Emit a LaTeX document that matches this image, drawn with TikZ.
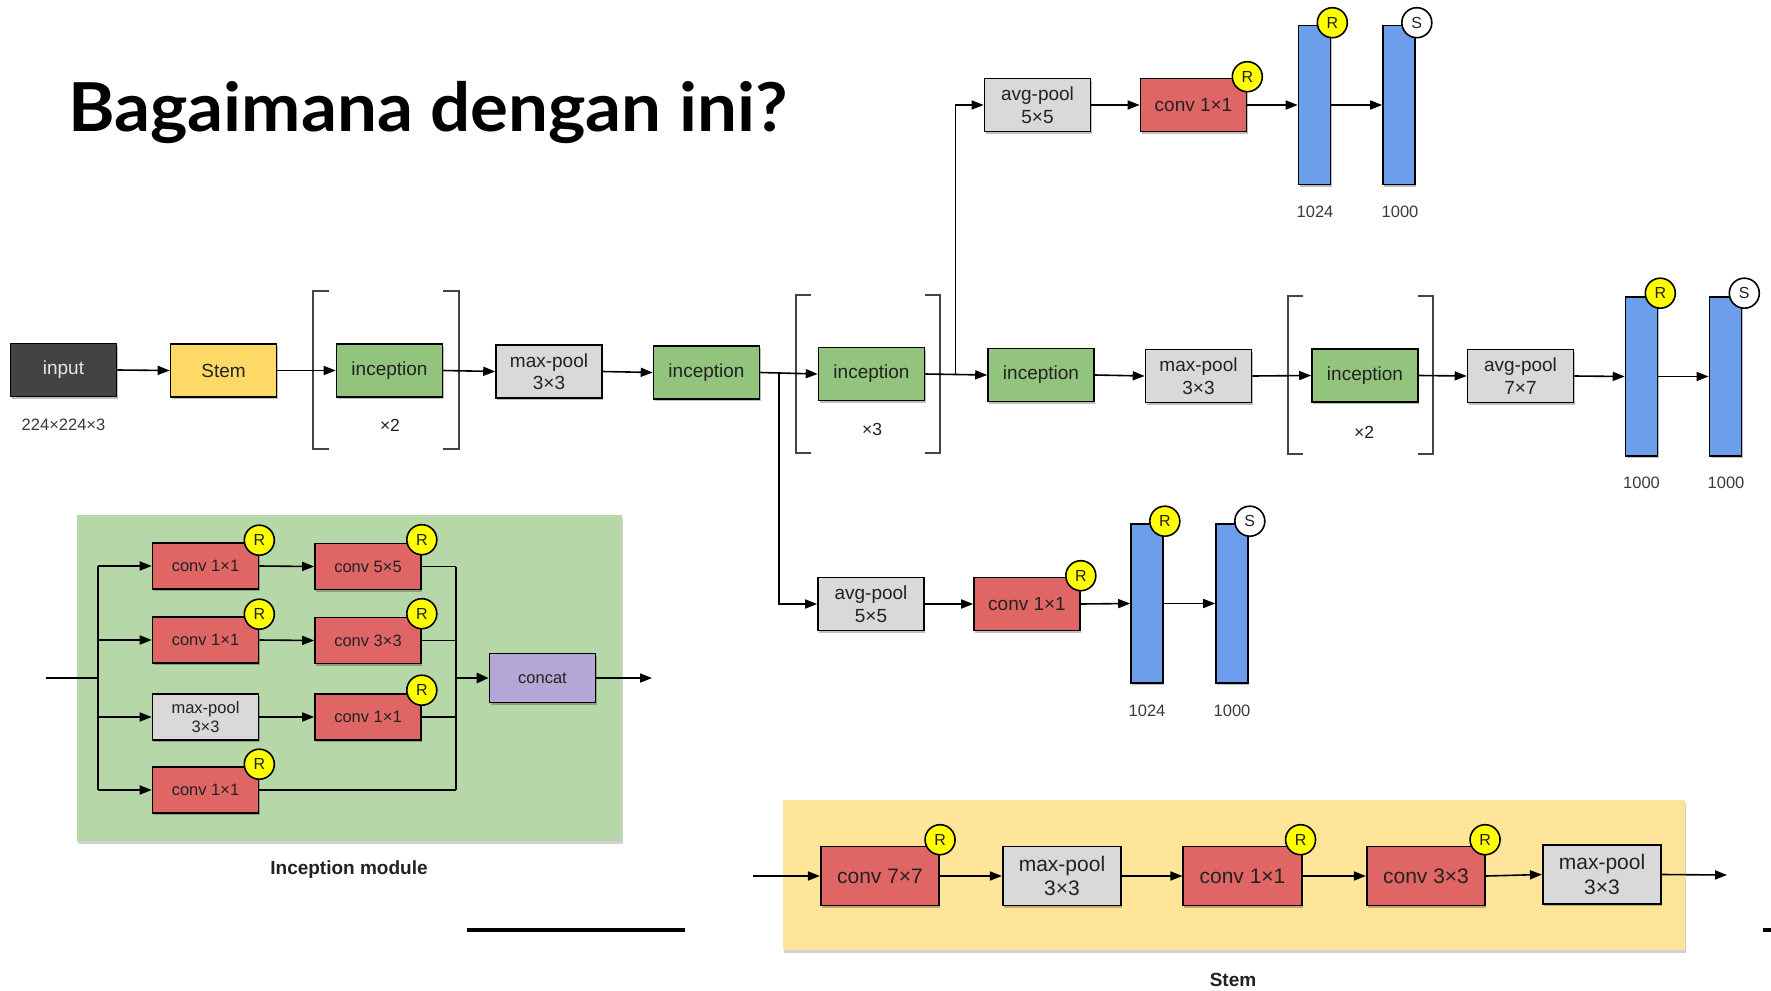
\documentclass[tikz,border=0pt]{standalone}
\usepackage{fontspec}
\setmainfont{Liberation Sans}
\newfontfamily\titlefont{Lato}
\usetikzlibrary{arrows.meta,shadows,calc}

\definecolor{cinput}{HTML}{434343}
\definecolor{cinputtext}{HTML}{E6E6E6}
\definecolor{cstem}{HTML}{FFD966}
\definecolor{cgreen}{HTML}{93C47D}
\definecolor{cgray}{HTML}{D9D9D9}
\definecolor{cred}{HTML}{E06666}
\definecolor{cblue}{HTML}{6D9EEB}
\definecolor{cpurple}{HTML}{B4A7D6}
\definecolor{cbadge}{HTML}{FFFF00}
\definecolor{cpanelgreen}{HTML}{B6D7A8}
\definecolor{cpanelyellow}{HTML}{FFE599}
\definecolor{ctext}{HTML}{222222}
\definecolor{clabel}{HTML}{3A3A3A}
\definecolor{cbracket}{HTML}{444444}

\tikzset{
  blk/.style={draw=black, line width=1.6pt, inner sep=0pt, align=center,
    text=ctext, font=\fontsize{19}{22.5}\selectfont,
    minimum width=106pt, minimum height=53pt,
    drop shadow={shadow xshift=1pt, shadow yshift=-2pt, fill=black, opacity=0.25}},
  iblk/.style={blk, font=\fontsize{16.5}{19.5}\selectfont, minimum height=46pt},
  sblk/.style={blk, font=\fontsize{21}{24.5}\selectfont, minimum width=118.5pt, minimum height=59pt},
  bar/.style={draw=black, line width=1.6pt, fill=cblue, inner sep=0pt,
    minimum width=32pt, minimum height=159pt,
    drop shadow={shadow xshift=1pt, shadow yshift=-2pt, fill=black, opacity=0.25}},
  badge/.style={circle, draw=black, line width=1.6pt, fill=cbadge, inner sep=0pt,
    minimum size=30pt, text=ctext, font=\fontsize{16}{16}\selectfont},
  sbadge/.style={badge, fill=white},
  panel/.style={inner sep=0pt, draw=none,
    drop shadow={shadow xshift=1pt, shadow yshift=-2.5pt, fill=black, opacity=0.18}},
  lab/.style={inner sep=0pt, text=clabel, font=\fontsize{16.5}{18}\selectfont},
  mult/.style={inner sep=0pt, text=ctext, font=\fontsize{17.5}{18}\selectfont},
  caption/.style={inner sep=0pt, text=ctext, font=\bfseries\fontsize{19}{20}\selectfont},
  link/.style={draw=black, line width=1.6pt},
  arr/.style={link, -{Triangle[length=12pt,width=9pt]}},
  thicklink/.style={draw=black, line width=2.8pt},
  thickarr/.style={thicklink, -{Triangle[length=12pt,width=10pt]}},
  brk/.style={draw=cbracket, line width=1.2pt},
}

\begin{document}
\begin{tikzpicture}[x=1pt,y=-1pt]
\useasboundingbox (0,0) rectangle (1771,990);
\fill[white] (0,0) rectangle (1771,990);

% heading
\node[anchor=base west, inner sep=0pt, text=black, xscale=1.05,
  font=\titlefont\bfseries\fontsize{67.5}{70}\selectfont] (title) at (68,131) {Bagaimana dengan ini?};

% ---------------- main network row ----------------
\node[blk, fill=cinput, text=cinputtext] (input) at (63.5,370) {input};
\node[lab] (insize) at (63.5,425) {224×224×3};
\node[blk, fill=cstem] (stem) at (223.5,370.5) {Stem};
\node[blk, fill=cgreen] (inc1) at (389.5,370.5) {inception};
\node[blk, fill=cgray] (mp1) at (549,371.5) {max-pool\\3×3};
\node[blk, fill=cgreen] (inc2) at (706.5,372.5) {inception};
\node[blk, fill=cgreen] (inc3) at (871.5,374) {inception};
\node[blk, fill=cgreen] (inc4) at (1041,375) {inception};
\node[blk, fill=cgray] (mp2) at (1198.5,376) {max-pool\\3×3};
\node[blk, fill=cgreen] (inc5) at (1365,375.5) {inception};
\node[blk, fill=cgray] (ap7) at (1520.5,376) {avg-pool\\7×7};
\node[bar] (fcA) at (1641.5,376.5) {};
\node[bar] (fcB) at (1725.5,376.5) {};
\node[badge] (rA) at ($(fcA.north east)+(2,-3)$) {R};
\node[sbadge] (sB) at ($(fcB.north east)+(2,-3)$) {S};
\node[lab] (lA) at (1641.5,483) {1000};
\node[lab] (lB) at (1726,483) {1000};

% repetition brackets
\draw[brk] (329,291) -- (313,291) -- (313,449) -- (329,449);
\draw[brk] (443,291) -- (459,291) -- (459,449) -- (443,449);
\node[mult] (x1) at (390,425) {×2};
\draw[brk] (811,295) -- (796,295) -- (796,453) -- (811,453);
\draw[brk] (925,295) -- (940,295) -- (940,453) -- (925,453);
\node[mult] (x2) at (872,429) {×3};
\draw[brk] (1303,296) -- (1288,296) -- (1288,454) -- (1303,454);
\draw[brk] (1418,296) -- (1433,296) -- (1433,454) -- (1418,454);
\node[mult] (x3) at (1364,432) {×2};

\draw[arr] (input.east) -- (stem.west);
\draw[arr] (stem.east) -- (inc1.west);
\draw[arr] (inc1.east) -- (mp1.west);
\draw[arr] (mp1.east) -- (inc2.west);
\draw[arr] (inc2.east) -- (inc3.west);
\draw[arr] (inc3.east) -- (inc4.west);
\draw[arr] (inc4.east) -- (mp2.west);
\draw[arr] (mp2.east) -- (inc5.west);
\draw[arr] (inc5.east) -- (ap7.west);
\draw[arr] (ap7.east) -- (fcA.west);
\draw[arr] (fcA.east) -- (fcB.west);

% ---------------- upper auxiliary head ----------------
\node[blk, fill=cgray] (apT) at (1037.5,105) {avg-pool\\5×5};
\node[blk, fill=cred] (convT) at (1193.5,105) {conv 1×1};
\node[badge] (rT0) at ($(convT.north east)+(0,-1)$) {R};
\node[bar] (fcT1) at (1314.5,105) {};
\node[bar] (fcT2) at (1399,105) {};
\node[badge] (rT1) at ($(fcT1.north east)+(1,-2)$) {R};
\node[sbadge] (sT2) at ($(fcT2.north east)+(1,-2)$) {S};
\node[lab] (lT1) at (1315,212) {1024};
\node[lab] (lT2) at (1400,212) {1000};

\coordinate (splitU) at (955.5,374.5);
\draw[arr] (splitU) |- (apT.west);
\draw[arr] (apT.east) -- (convT.west);
\draw[arr] (convT.east) -- (fcT1.west);
\draw[arr] (fcT1.east) -- (fcT2.west);

% ---------------- lower auxiliary head ----------------
\node[blk, fill=cgray] (apL) at (871,604) {avg-pool\\5×5};
\node[blk, fill=cred] (convL) at (1027,604) {conv 1×1};
\node[badge] (rL0) at ($(convL.north east)+(0,-1)$) {R};
\node[bar] (fcL1) at (1147,603.5) {};
\node[bar] (fcL2) at (1232,603.5) {};
\node[badge] (rL1) at ($(fcL1.north east)+(1,-2)$) {R};
\node[sbadge] (sL2) at ($(fcL2.north east)+(1,-2)$) {S};
\node[lab] (lL1) at (1147,711) {1024};
\node[lab] (lL2) at (1232,711) {1000};

\coordinate (splitD) at (779,373);
\draw[arr] (splitD) |- (apL.west);
\draw[arr] (apL.east) -- (convL.west);
\draw[arr] (convL.east) -- (fcL1.west);
\draw[arr] (fcL1.east) -- (fcL2.west);

% ---------------- inception module detail ----------------
\node[panel, fill=cpanelgreen, minimum width=545pt, minimum height=326pt] (ipanel) at (349.5,678) {};
\node[iblk, fill=cred] (i11) at (205.5,566) {conv 1×1};
\node[iblk, fill=cred] (i12) at (368,566.5) {conv 5×5};
\node[iblk, fill=cred] (i21) at (205.5,640) {conv 1×1};
\node[iblk, fill=cred] (i22) at (368,640.5) {conv 3×3};
\node[iblk, fill=cgray] (i31) at (205.5,717) {max-pool\\3×3};
\node[iblk, fill=cred] (i32) at (368,717) {conv 1×1};
\node[iblk, fill=cred] (i41) at (205.5,790) {conv 1×1};
\node[iblk, fill=cpurple, minimum height=49pt] (cat) at (542.5,678) {concat};
\node[badge] (ri11) at ($(i11.north east)+(0,-2)$) {R};
\node[badge] (ri12) at ($(i12.north east)+(0,-3)$) {R};
\node[badge] (ri21) at ($(i21.north east)+(0,-2)$) {R};
\node[badge] (ri22) at ($(i22.north east)+(0,-3)$) {R};
\node[badge] (ri32) at ($(i32.north east)+(0,-3)$) {R};
\node[badge] (ri41) at ($(i41.north east)+(0,-2)$) {R};
\node[caption] (icap) at (349,870) {Inception module};

\coordinate (iin) at (46,678);
\coordinate (isplit) at (98,678);
\coordinate (imerge) at (456,678);
\coordinate (iout) at (652,678);
\draw[thicklink] (iin) -- (isplit);
\draw[link] (isplit |- i11.west) -- (isplit |- i41.west);
\draw[arr] (isplit |- i11.west) -- (i11.west);
\draw[arr] (isplit |- i21.west) -- (i21.west);
\draw[arr] (isplit |- i31.west) -- (i31.west);
\draw[arr] (isplit |- i41.west) -- (i41.west);
\draw[arr] (i11.east) -- (i12.west);
\draw[arr] (i21.east) -- (i22.west);
\draw[arr] (i31.east) -- (i32.west);
\draw[link] (i12.east) -- (imerge |- i12.east);
\draw[link] (i22.east) -- (imerge |- i22.east);
\draw[link] (i32.east) -- (imerge |- i32.east);
\draw[link] (i41.east) -- (imerge |- i41.east);
\draw[link] (imerge |- i12.east) -- (imerge |- i41.east);
\draw[thickarr] (imerge) -- (cat.west);
\draw[arr] (cat.east) -- (iout);

% ---------------- stem detail ----------------
\node[panel, fill=cpanelyellow, minimum width=902pt, minimum height=150pt] (spanel) at (1234,875) {};
\node[sblk, fill=cred] (s1) at (880,876) {conv 7×7};
\node[sblk, fill=cgray] (s2) at (1062,876) {max-pool\\3×3};
\node[sblk, fill=cred] (s3) at (1242.5,876) {conv 1×1};
\node[sblk, fill=cred] (s4) at (1426,876) {conv 3×3};
\node[sblk, fill=cgray] (s5) at (1602,874.5) {max-pool\\3×3};
\node[badge] (rs1) at ($(s1.north east)+(0,-6)$) {R};
\node[badge] (rs3) at ($(s3.north east)+(-2,-6)$) {R};
\node[badge] (rs4) at ($(s4.north east)+(-1,-6)$) {R};
\node[caption] (scap) at (1233,980) {Stem};

\coordinate (sin) at (753,876);
\coordinate (sout) at (1727,875);
\draw[arr] (sin) -- (s1.west);
\draw[arr] (s1.east) -- (s2.west);
\draw[arr] (s2.east) -- (s3.west);
\draw[arr] (s3.east) -- (s4.west);
\draw[arr] (s4.east) -- (s5.west);
\draw[arr] (s5.east) -- (sout);

% loose rules near the bottom edge
\draw[line width=4pt] (467,930) -- (685,930);
\draw[line width=4pt] (1763,930) -- (1771,930);
\end{tikzpicture}
\end{document}
